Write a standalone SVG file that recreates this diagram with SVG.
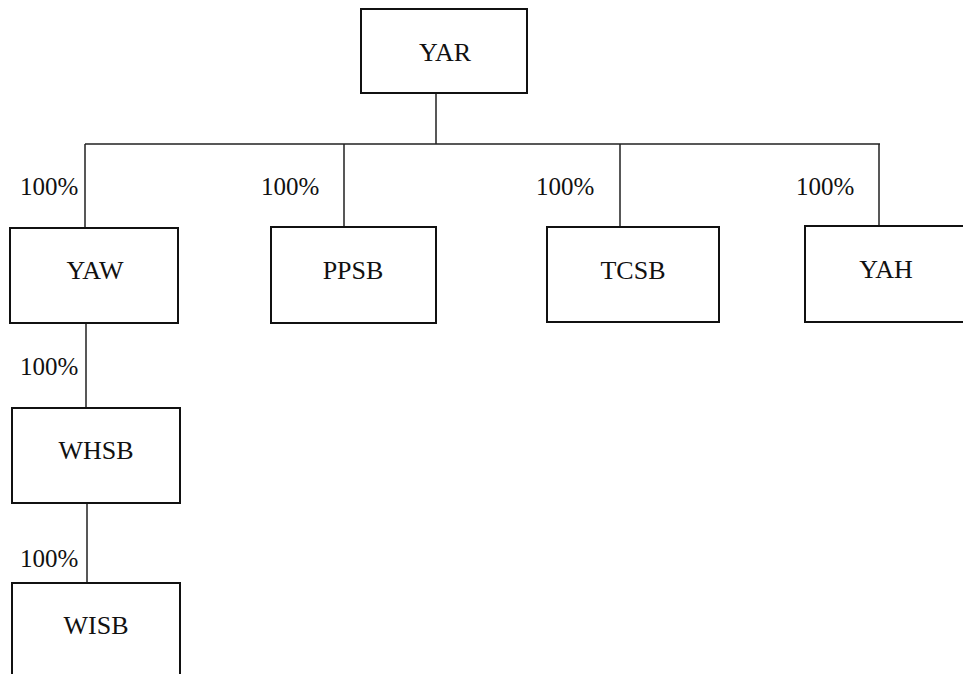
<svg xmlns="http://www.w3.org/2000/svg" width="963" height="674" viewBox="0 0 963 674">
<style>
.box{fill:#fff;stroke:#111;stroke-width:2}
.lbl{font-family:"Liberation Serif","Times New Roman",serif;font-size:26px;fill:#111;text-anchor:middle}
.pct{font-family:"Liberation Serif","Times New Roman",serif;font-size:25px;fill:#111}
.con{stroke:#222;stroke-width:1.5;fill:none}
</style>
<rect width="963" height="674" fill="#fff"/>
<g id="connectors">
<path class="con" d="M436 93V144M85 144H880M85 144V228M344 144V227M620 144V227M879 144V226M86 323V408M87 503V583"/>
<text class="pct" x="20" y="195">100%</text>
<text class="pct" x="261" y="195">100%</text>
<text class="pct" x="536" y="195">100%</text>
<text class="pct" x="796" y="195">100%</text>
<text class="pct" x="20" y="375">100%</text>
<text class="pct" x="20" y="567">100%</text>
</g>
<g id="YAR"><rect class="box" x="361" y="9" width="166" height="84"/><text class="lbl" x="445" y="61">YAR</text></g>
<g id="YAW"><rect class="box" x="10" y="228" width="168" height="95"/><text class="lbl" x="95" y="279">YAW</text></g>
<g id="PPSB"><rect class="box" x="271" y="227" width="165" height="96"/><text class="lbl" x="353" y="279">PPSB</text></g>
<g id="TCSB"><rect class="box" x="547" y="227" width="172" height="95"/><text class="lbl" x="633" y="279">TCSB</text></g>
<g id="YAH"><rect class="box" x="805" y="226" width="160" height="96"/><text class="lbl" x="886" y="278">YAH</text></g>
<g id="WHSB"><rect class="box" x="12" y="408" width="168" height="95"/><text class="lbl" x="96" y="459">WHSB</text></g>
<g id="WISB"><rect class="box" x="12" y="583" width="168" height="100"/><text class="lbl" x="96" y="634">WISB</text></g>
</svg>
